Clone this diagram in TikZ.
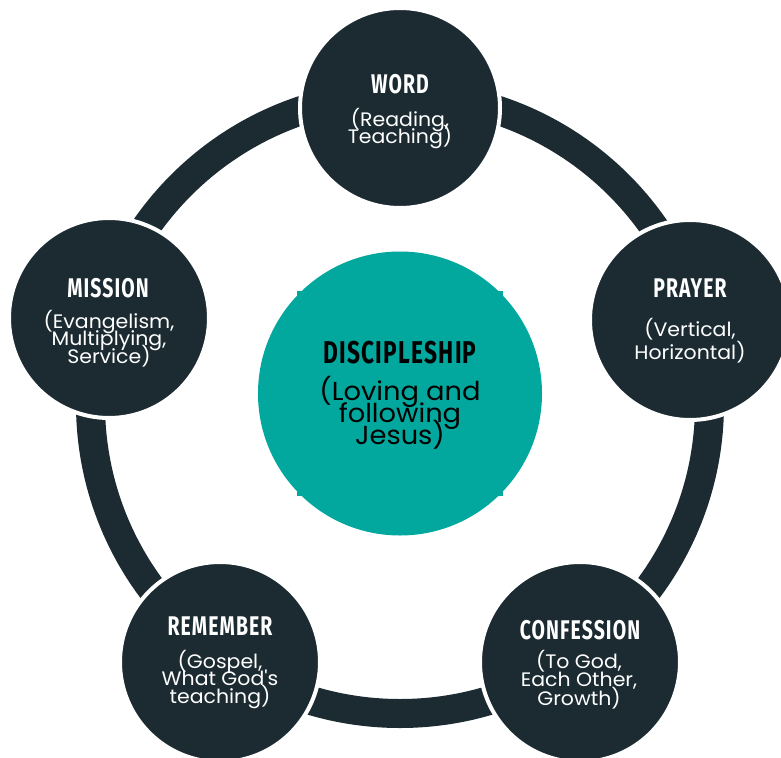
\documentclass[tikz,border=0pt]{standalone}
\usepackage{fontspec}
\newfontfamily\titlefont[FakeStretch=0.72,LetterSpace=4]{Fira Sans}
\newfontfamily\subfont[FakeStretch=1.05]{Poppins}
\newcommand\tightlines{\lineskiplimit=-100pt\relax}
\definecolor{dark}{HTML}{1B2B31}
\definecolor{tealc}{HTML}{02A89E}
\tikzset{
  pillar/.style={circle, fill=dark, draw=white, line width=4pt, minimum size=200pt, inner sep=0pt},
  ttl/.style={font=\titlefont\bfseries\fontsize{27}{27}\selectfont, text=white, anchor=base, inner sep=0pt},
  sub/.style={font=\subfont\fontsize{19.5}{#1}\selectfont\tightlines, text=white, align=center, anchor=base, inner sep=0pt},
  sub/.default=17.5,
  handle/.style={fill=tealc, minimum size=5pt, inner sep=0pt},
}
\begin{document}
\begin{tikzpicture}[x=1pt,y=-1pt]
\useasboundingbox (0,0) rectangle (781,757);
\clip (0,0) rectangle (781,757);
\coordinate (ringc) at (400,404);
\draw[dark, line width=29pt] (ringc) circle[radius=309.5];
% outer pillars
\node[pillar] (word) at (400,108) {};
\node[pillar] (prayer) at (690,320) {};
\node[pillar] (confession) at (580,662) {};
\node[pillar] (remember) at (220,662) {};
\node[pillar] (mission) at (109,318) {};
% centre
\node[handle] (h1) at (299.6,293.1) {};
\node[handle] (h2) at (500.4,293.1) {};
\node[handle] (h3) at (299.6,493.9) {};
\node[handle] (h4) at (500.4,493.9) {};
\node[circle, fill=tealc, minimum size=284pt, inner sep=0pt] (disc) at (400,393.5) {};
% texts (sub nodes anchored at the baseline of their last line)
\node[ttl] (wordT) at (400,94) {WORD};
\node[sub=16.7] (wordS) at (400,143) {(Reading,\\Teaching)};
\node[ttl] (prayerT) at (690,297) {PRAYER};
\node[sub=22.5] (prayerS) at (690,359) {(Vertical,\\Horizontal)};
\node[ttl] (confT) at (580,639) {CONFESSION};
\node[sub=18.5] (confS) at (579,705) {(To God,\\Each Other,\\Growth)};
\node[ttl] (remT) at (220,635) {REMEMBER};
\node[sub=17.5] (remS) at (220,703) {(Gospel,\\What God's\\teaching)};
\node[ttl] (misT) at (108,297) {MISSION};
\node[sub=17.5] (misS) at (109,363) {(Evangelism,\\Multiplying,\\Service)};
\node[ttl, text=black, font=\titlefont\bfseries\fontsize{31.5}{31.5}\selectfont] (discT) at (400,363) {DISCIPLESHIP};
\node[sub, text=black, font=\subfont\fontsize{26}{22}\selectfont\tightlines] (discS) at (400,444) {(Loving and\\following\\Jesus)};
\end{tikzpicture}
\end{document}
